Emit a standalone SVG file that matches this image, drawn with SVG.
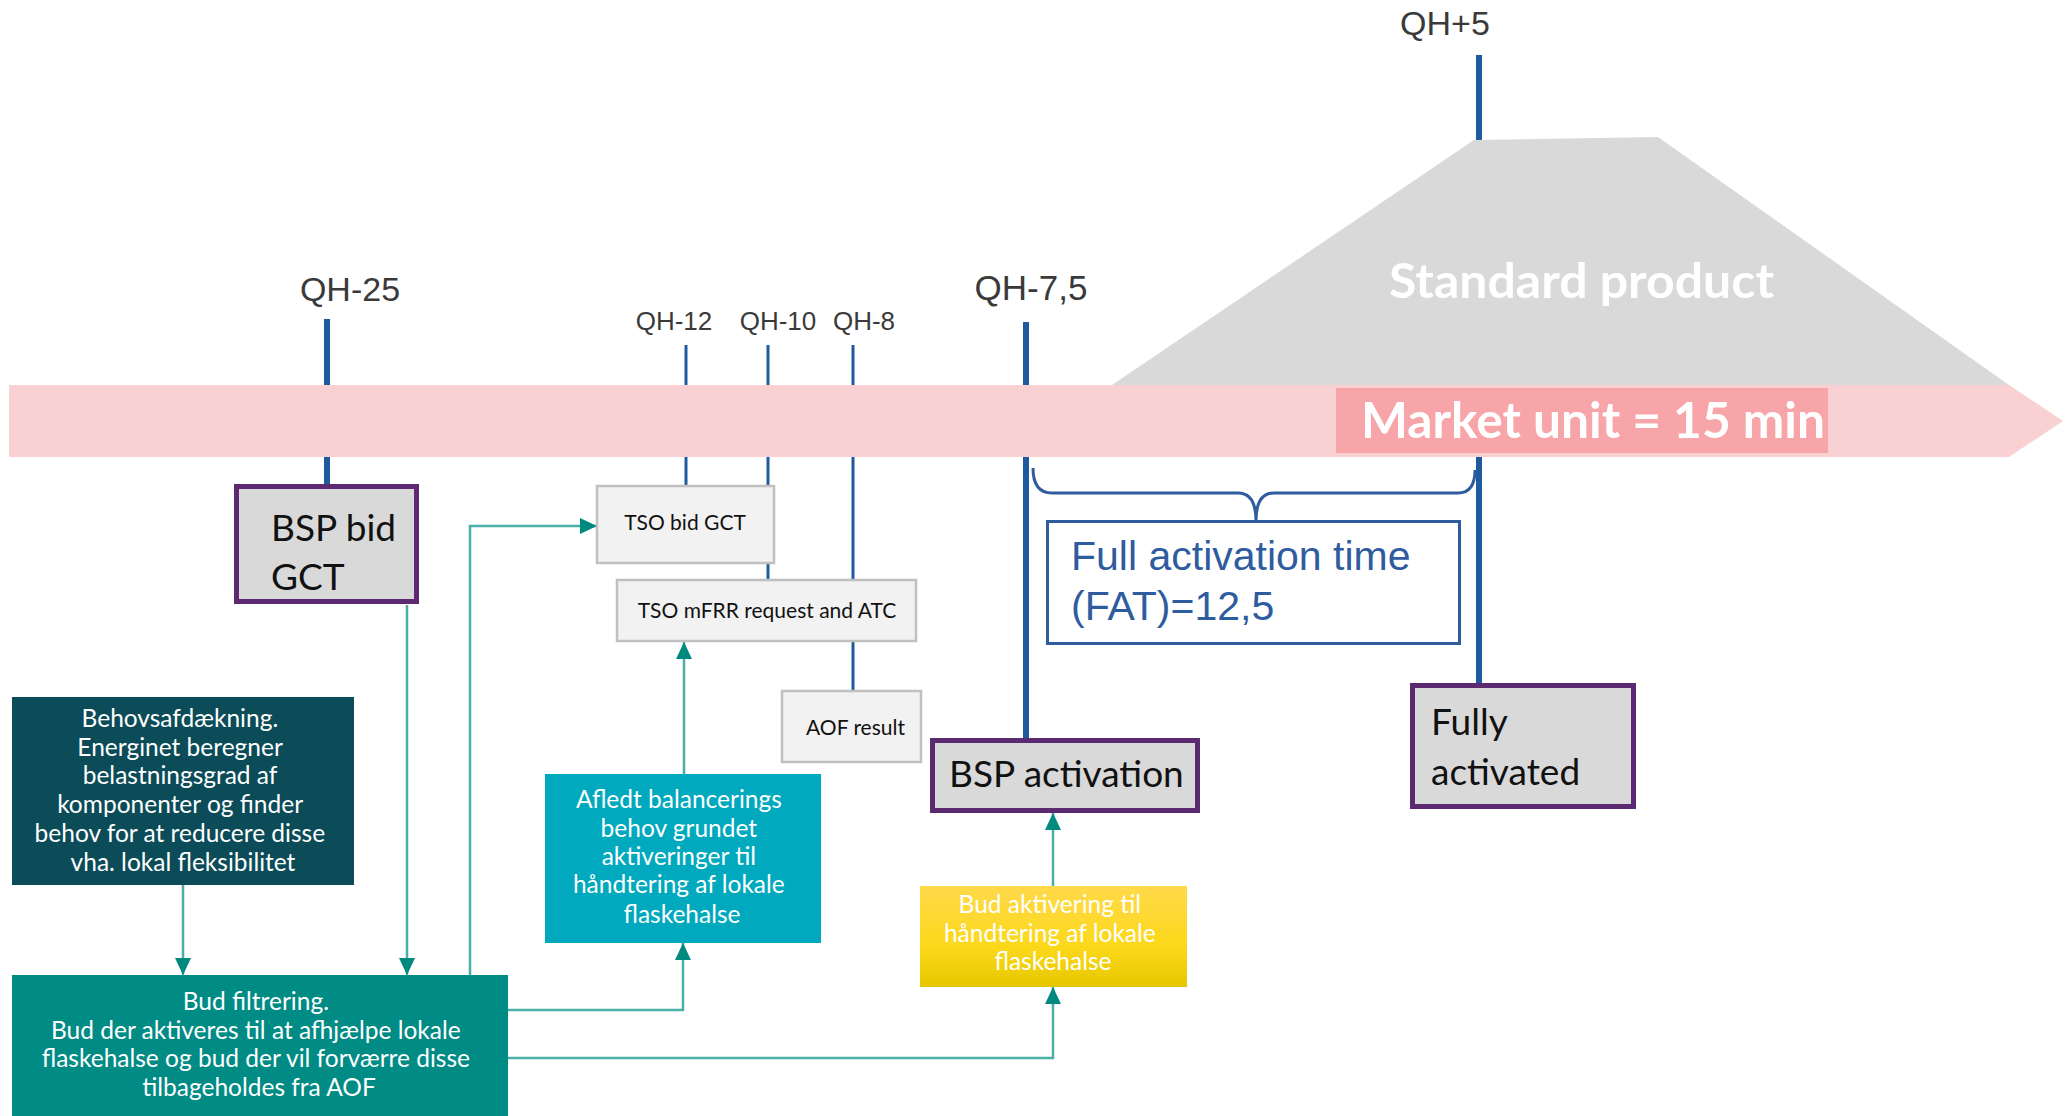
<svg xmlns="http://www.w3.org/2000/svg" width="2069" height="1116" viewBox="0 0 2069 1116">
<style>
.qh{font-family:"Liberation Sans",Arial,sans-serif;fill:#3a3a3a}
.cal{font-family:Lato,"Open Sans",sans-serif}
.wt{fill:#ffffff;text-anchor:middle}
.blk{fill:#111111}
.tick{stroke:#1f5a9e;fill:none}
.conn{stroke:#4aafa9;stroke-width:2.5;fill:none}
.pbox{fill:#d9d9d9;stroke:#5c2a70;stroke-width:5}
.gbox{fill:#f2f2f2;stroke:#c0c0c0;stroke-width:2.5}
</style>
<defs>
<marker id="ah" markerUnits="userSpaceOnUse" markerWidth="20" markerHeight="18" refX="17" refY="8" orient="auto">
<path d="M0,0 L17,8 L0,16 z" fill="#00897e"/>
</marker>
<linearGradient id="yel" x1="0" y1="0" x2="0" y2="1">
<stop offset="0" stop-color="#ffd94a"/>
<stop offset="0.6" stop-color="#fcd81a"/>
<stop offset="1" stop-color="#e6c700"/>
</linearGradient>
</defs>
<rect width="2069" height="1116" fill="#ffffff"/>

<g id="timeline">
<line class="tick" x1="1479" y1="55" x2="1479" y2="683" stroke-width="6"/>
<line class="tick" x1="327" y1="319" x2="327" y2="486" stroke-width="6"/>
<line class="tick" x1="686" y1="345" x2="686" y2="488" stroke-width="3"/>
<line class="tick" x1="768" y1="345" x2="768" y2="582" stroke-width="3"/>
<line class="tick" x1="853" y1="345" x2="853" y2="693" stroke-width="3"/>
<line class="tick" x1="1026" y1="322" x2="1026" y2="740" stroke-width="6"/>
<polygon points="1474,140 1658,137 2009,385 1112,385" fill="#d9d9d9"/>
<polygon points="9,385 2009,385 2063,421 2009,457 9,457" fill="#f9d1d3"/>
<rect x="1336" y="388" width="492" height="65" fill="#f7a5a8"/>
<text class="cal" x="1361" y="438" font-size="50" font-weight="bold" fill="#ffffff" textLength="464" lengthAdjust="spacingAndGlyphs">Market unit = 15 min</text>
<text class="cal" x="1389" y="298" font-size="48" font-weight="bold" fill="#ffffff" textLength="385" lengthAdjust="spacingAndGlyphs">Standard product</text>
<text class="qh" x="1445" y="35" font-size="34" text-anchor="middle">QH+5</text>
<text class="qh" x="350" y="301" font-size="34" text-anchor="middle">QH-25</text>
<text class="qh" x="674" y="330" font-size="26" text-anchor="middle">QH-12</text>
<text class="qh" x="778" y="330" font-size="26" text-anchor="middle">QH-10</text>
<text class="qh" x="864" y="330" font-size="26" text-anchor="middle">QH-8</text>
<text class="qh" x="1031" y="300" font-size="35" text-anchor="middle">QH-7,5</text>
</g>

<g id="connectors">
<path class="conn" d="M183,885 L183,975" marker-end="url(#ah)"/>
<path class="conn" d="M407,605 L407,975" marker-end="url(#ah)"/>
<path class="conn" d="M470,975 L470,526 L597,526" marker-end="url(#ah)"/>
<path class="conn" d="M508,1010 L683,1010 L683,943" marker-end="url(#ah)"/>
<path class="conn" d="M684,774 L684,642" marker-end="url(#ah)"/>
<path class="conn" d="M508,1058 L1053,1058 L1053,987" marker-end="url(#ah)"/>
<path class="conn" d="M1053,886 L1053,813" marker-end="url(#ah)"/>
</g>

<g id="fat-brace">
<path d="M1033,468 Q1033,493 1052,493 L1238,493 Q1256,493 1256,521 Q1256,493 1274,493 L1458,493 Q1475,493 1475,470" fill="none" stroke="#2e5c9e" stroke-width="3"/>
</g>

<g id="fat">
<rect x="1047.5" y="521.5" width="412" height="122" fill="#ffffff" stroke="#2e5c9e" stroke-width="3"/>
<text x="1071" y="570" font-family="Liberation Sans,Arial,sans-serif" font-size="41" fill="#2e5c9e">Full activation time</text>
<text x="1071" y="620" font-family="Liberation Sans,Arial,sans-serif" font-size="41" fill="#2e5c9e">(FAT)=12,5</text>
</g>

<g id="bsp-bid-gct">
<rect class="pbox" x="236.5" y="486.5" width="180" height="115"/>
<text class="cal blk" x="271" y="541" font-size="37">BSP bid</text>
<text class="cal blk" x="271" y="590" font-size="37">GCT</text>
</g>

<g id="tso-bid-gct">
<rect class="gbox" x="597" y="486" width="177" height="77"/>
<text class="cal blk" x="685" y="530" font-size="21" text-anchor="middle">TSO bid GCT</text>
</g>

<g id="tso-mfrr">
<rect class="gbox" x="617" y="580" width="299" height="61"/>
<text class="cal blk" x="767" y="618" font-size="21" text-anchor="middle">TSO mFRR request and ATC</text>
</g>

<g id="aof-result">
<rect class="gbox" x="782" y="691" width="139" height="71"/>
<text class="cal blk" x="806" y="735" font-size="21">AOF result</text>
</g>

<g id="bsp-activation">
<rect class="pbox" x="932.5" y="740.5" width="265" height="70"/>
<text class="cal blk" x="949" y="787" font-size="37">BSP activation</text>
</g>

<g id="fully-activated">
<rect class="pbox" x="1412.5" y="685.5" width="221" height="121"/>
<text class="cal blk" x="1431" y="735" font-size="37">Fully</text>
<text class="cal blk" x="1431" y="785" font-size="37">activated</text>
</g>

<g id="behovsafdaekning">
<rect x="12" y="697" width="342" height="188" fill="#0b4c58"/>
<text class="cal wt" font-size="24.5">
<tspan x="183" y="727">Behovsafdækning.</tspan>
<tspan x="183" y="756">Energinet beregner</tspan>
<tspan x="183" y="784">belastningsgrad af</tspan>
<tspan x="183" y="813">komponenter og finder</tspan>
<tspan x="183" y="842">behov for at reducere disse</tspan>
<tspan x="183" y="871">vha. lokal fleksibilitet</tspan>
</text>
</g>

<g id="bud-filtrering">
<rect x="12" y="975" width="496" height="141" fill="#008b85"/>
<text class="cal wt" font-size="24.5">
<tspan x="259" y="1010">Bud filtrering.</tspan>
<tspan x="259" y="1039">Bud der aktiveres til at afhjælpe lokale</tspan>
<tspan x="259" y="1067">flaskehalse og bud der vil forværre disse</tspan>
<tspan x="259" y="1096">tilbageholdes fra AOF</tspan>
</text>
</g>

<g id="afledt">
<rect x="545" y="774" width="276" height="169" fill="#00a9be"/>
<text class="cal wt" font-size="24.5">
<tspan x="682" y="808">Afledt balancerings</tspan>
<tspan x="682" y="837">behov grundet</tspan>
<tspan x="682" y="865">aktiveringer til</tspan>
<tspan x="682" y="893">håndtering af lokale</tspan>
<tspan x="682" y="923">flaskehalse</tspan>
</text>
</g>

<g id="bud-aktivering">
<rect x="920" y="886" width="267" height="101" fill="url(#yel)"/>
<text class="cal wt" font-size="24.5">
<tspan x="1053" y="913">Bud aktivering til</tspan>
<tspan x="1053" y="942">håndtering af lokale</tspan>
<tspan x="1053" y="970">flaskehalse</tspan>
</text>
</g>
</svg>
